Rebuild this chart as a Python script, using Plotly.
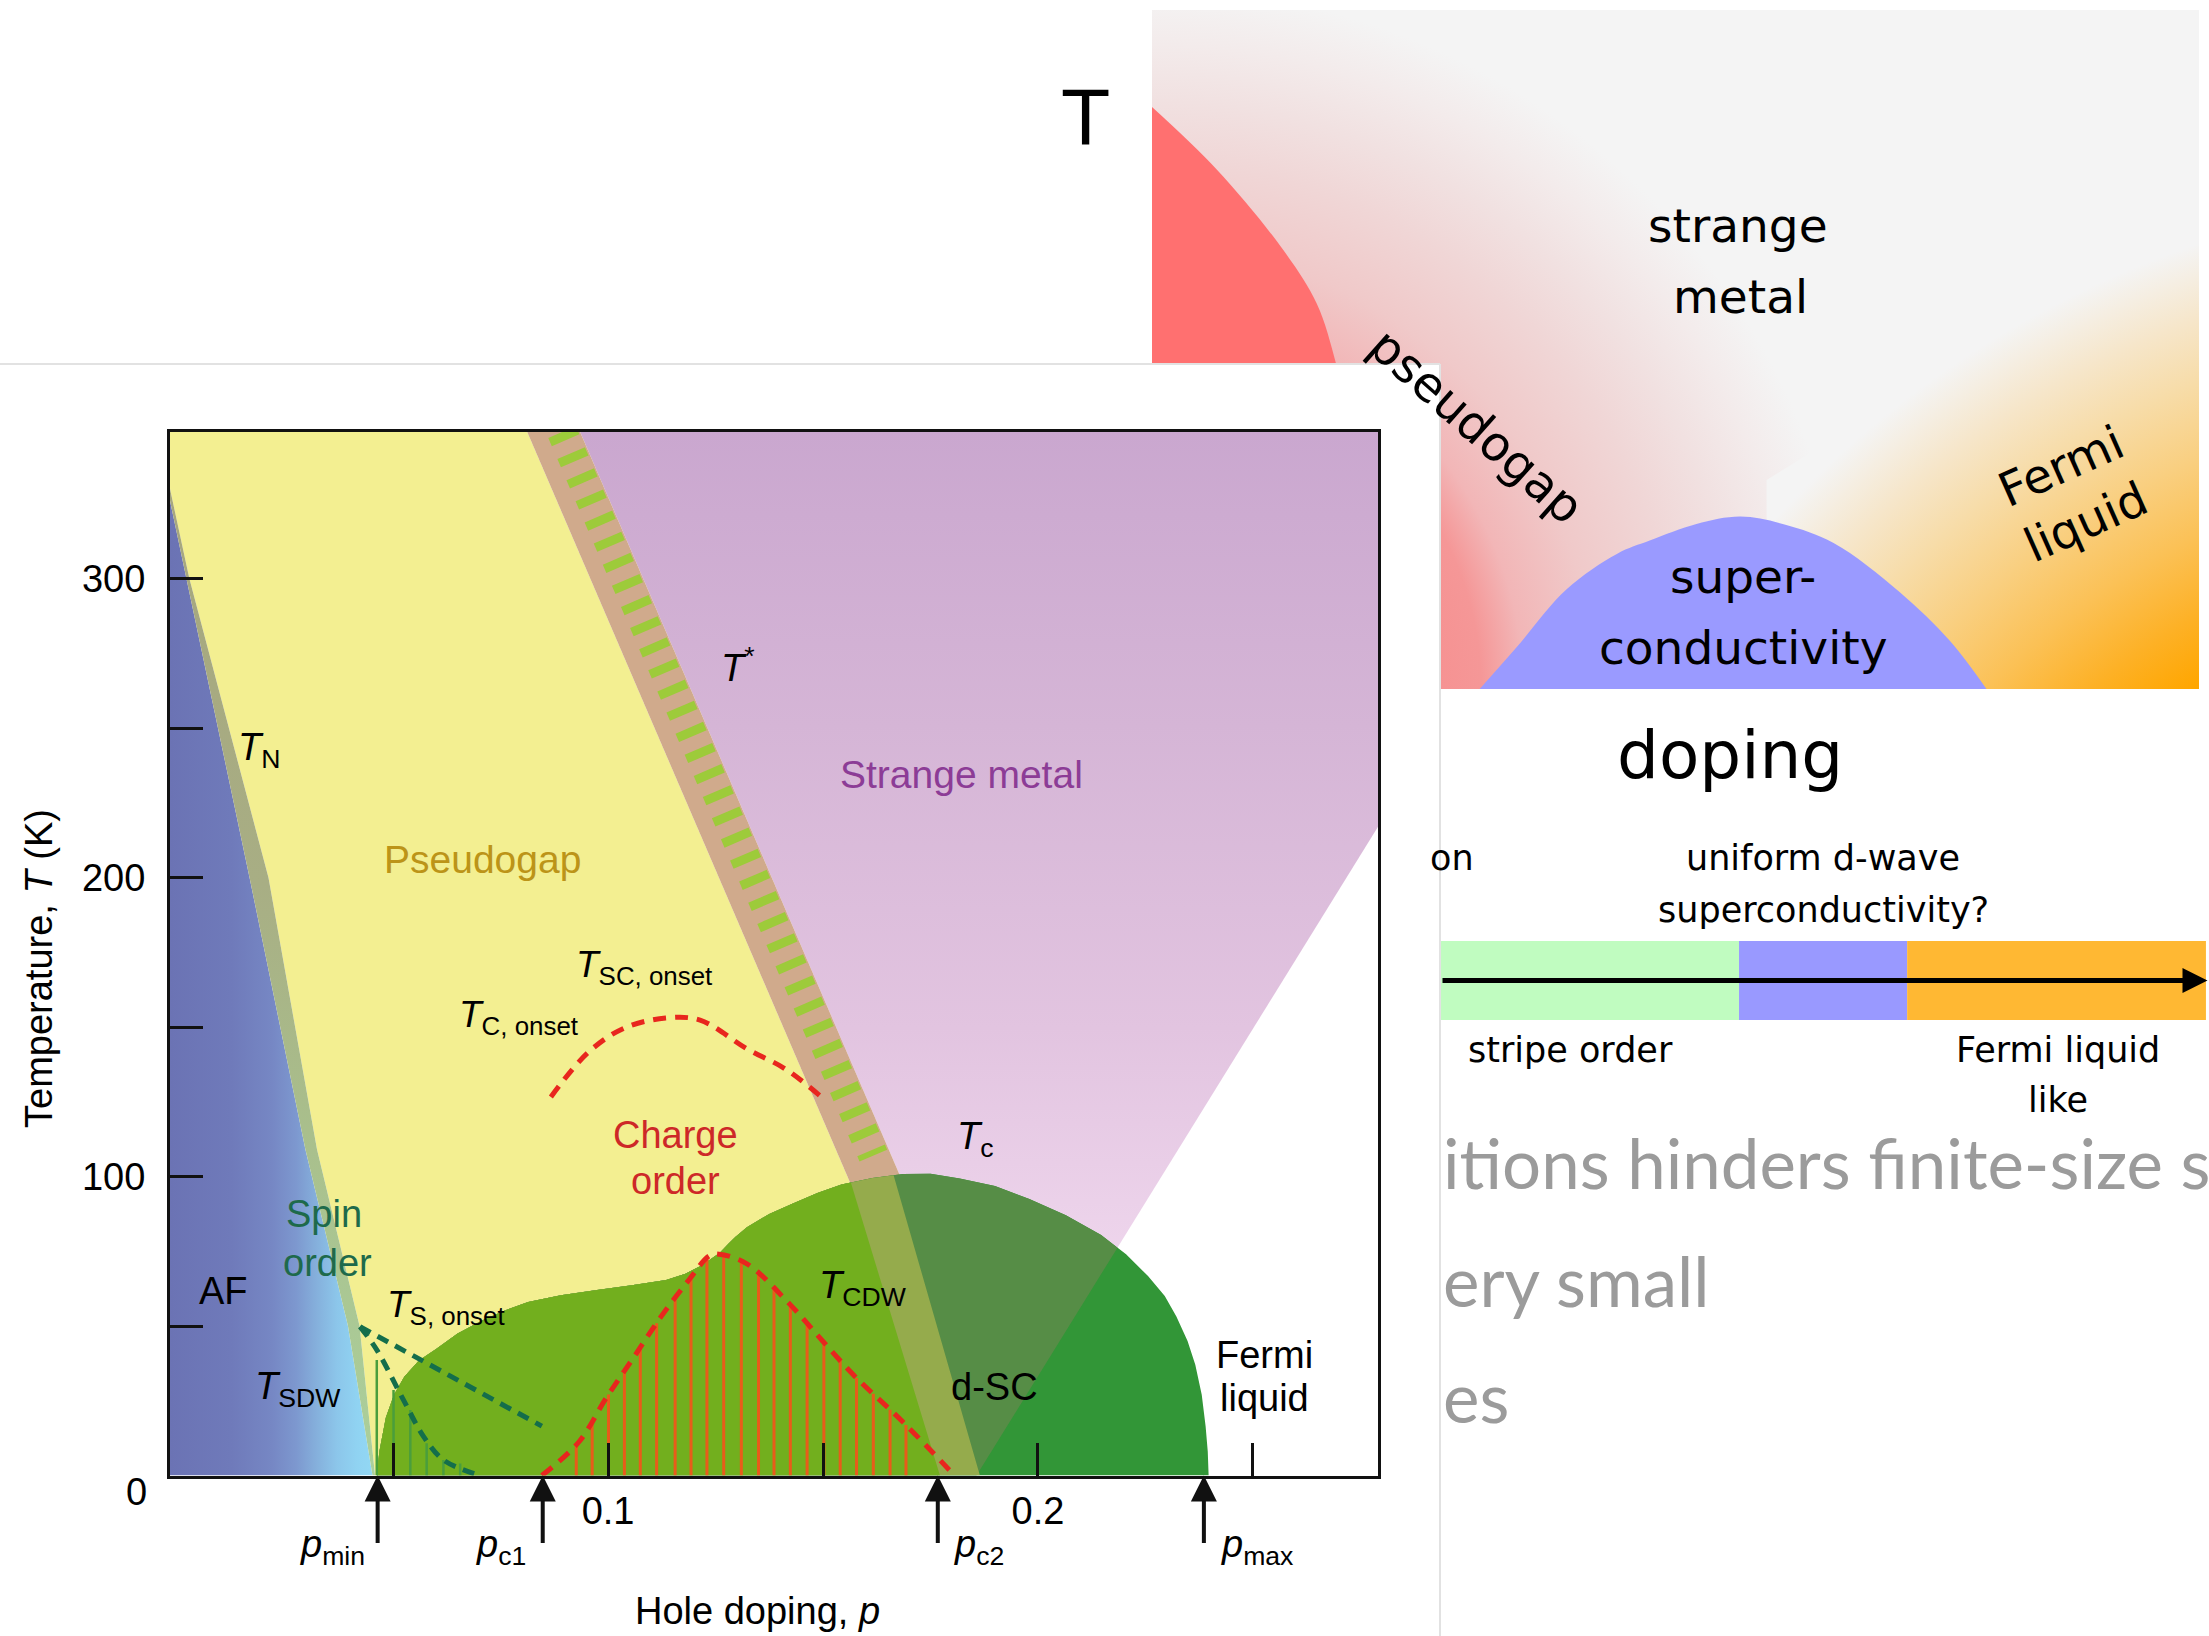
import numpy as np
import plotly.graph_objects as go

W, H = 2209, 1636


def fx(px):
    return px / W


def fy(py):
    return 1 - py / H


SANS = "Liberation Sans, Arial, Helvetica, sans-serif"
WIDE = "DejaVu Sans, Verdana, sans-serif"
HUMAN = "Lato, Open Sans, sans-serif"

# ===================== schematic T-doping sketch (panel units 0..1) =====================
pg_edge_x = [0.0, 0.0618, 0.1254, 0.1573, 0.1764, 0.195, 0.205, 0.0]
pg_edge_y = [0.857, 0.765, 0.6465, 0.5676, 0.4757, 0.350, 0.0, 0.0]
sc_x = [0.313, 0.348, 0.396, 0.444, 0.476, 0.520, 0.562, 0.605, 0.651, 0.714, 0.762, 0.797]
sc_y = [0.0, 0.061, 0.147, 0.199, 0.219, 0.243, 0.254, 0.242, 0.215, 0.143, 0.071, 0.0]
fl_x = [0.587, 0.587, 1.0]
fl_y = [0.0, 0.3078, 0.7054]

# ===================== cuprate phase diagram: hole doping p vs temperature T =====================
p_lo, p_hi, t_top = -0.0019, 0.2791, 349.0

tn_left_p = [-0.0019, 0.0166, 0.0296, 0.0395, 0.0452]
tn_left_T = [326, 200, 109, 50, 0]
tn_right_p = [-0.0019, 0.0026, 0.0210, 0.0323, 0.0422, 0.0458]
tn_right_T = [330, 300, 200, 109, 50, 0]

tstar_left_p, tstar_left_T = [0.0812, 0.1856], [349, 0]
tstar_right_p, tstar_right_T = [0.0935, 0.1979], [349, 0]
tstar_dash_p, tstar_dash_T = [0.0893, 0.1617], [349, 107]
stripe_left_p, stripe_left_T = [0.1563, 0.1772], [98.8, 0]
stripe_right_p, stripe_right_T = [0.1663, 0.1865], [101, 0]
fl_line_p, fl_line_T = [0.1857, 0.2791], [0, 217]

dome_p = [0.0462, 0.0468, 0.0483, 0.0502, 0.0526, 0.0560, 0.0600, 0.0650, 0.0707, 0.0760,
          0.0814, 0.0890, 0.0974, 0.1055, 0.1135, 0.1180, 0.1214, 0.1240, 0.1260, 0.1280,
          0.1296, 0.1323, 0.1375, 0.1430, 0.1487, 0.1543, 0.1615, 0.1686, 0.1750, 0.1818,
          0.1900, 0.1980, 0.2065, 0.2147, 0.2205, 0.2256, 0.2295, 0.2322, 0.2348, 0.2366,
          0.2381, 0.2390, 0.2395, 0.2397]
dome_T = [0, 8.0, 19.3, 27.0, 33.0, 38.5, 42.3, 47.5, 51.8, 55.2,
          58.0, 60.3, 62.0, 63.6, 65.4, 67.5, 70.0, 72.5, 74.5, 77.5,
          79.8, 83.0, 87.5, 91.0, 94.5, 97.3, 99.5, 100.8, 100.9, 99.3,
          96.8, 92.5, 87.0, 80.4, 74.0, 66.7, 60.0, 53.2, 45.0, 37.0,
          27.0, 16.5, 8.0, 0]

cdw_p = [0.0846, 0.0932, 0.0996, 0.1060, 0.1124, 0.1188, 0.1236, 0.1258, 0.1323, 0.1422,
         0.1499, 0.1576, 0.1686, 0.1806]
cdw_T = [0, 11.2, 26.0, 39.6, 53.3, 65.4, 73.5, 74.0, 70.8, 57.4, 45.0, 32.9, 17.9, 0]
onset_p = [0.0867, 0.0953, 0.1037, 0.1134, 0.1214, 0.1323, 0.1412, 0.1493]
onset_T = [126.6, 141.4, 149.6, 153.0, 152.3, 142.7, 136.0, 127.0]

cdw_hatch_p = [0.0926, 0.0963, 0.1001, 0.1038, 0.1075, 0.1113, 0.1156, 0.1193, 0.1230, 0.1269,
               0.1310, 0.1350, 0.1386, 0.1424, 0.1463, 0.1502, 0.1540, 0.1578, 0.1617, 0.1656,
               0.1693]
cdw_hatch_T = [10.4, 18.4, 27.1, 34.9, 42.8, 50.9, 59.4, 66.2, 72.5, 73.5,
               71.4, 67.1, 62.3, 57.1, 50.8, 44.5, 38.6, 32.6, 27.3, 22.0,
               16.9]

ts_onset_p, ts_onset_T = [0.0423, 0.0846], [49.8, 16.5]
sdw_p = [0.0423, 0.0462, 0.0524, 0.0571, 0.0617, 0.0695]
sdw_T = [49.8, 42.0, 25.3, 13.0, 5.2, 0.3]
spin_hatch_p = [0.0462, 0.0501, 0.0540, 0.0578, 0.0617, 0.0656]
spin_hatch_T = [38.6, 28.6, 21.9, 10.8, 5.2, 4.0]

p_marks = {"min": 0.0464, "c1": 0.0848, "c2": 0.1767, "max": 0.2386}

# ===================== doping bar =====================
bar_start = [0.0, 0.39, 0.61]
bar_end = [0.39, 0.61, 1.001]
bar_colors = ["#c0fcc0", "#9999ff", "#ffb833"]


def on_line(lp, lt, t):
    return lp[0] + (lp[1] - lp[0]) * (t - lt[0]) / (lt[1] - lt[0])


def clip_left(ps, ts, lp, lt):
    """Part of polygon (ps, ts) lying at lower doping than the line through (lp, lt)."""
    f = [p - on_line(lp, lt, t) for p, t in zip(ps, ts)]
    out_p, out_t = [], []
    n = len(ps)
    for i in range(n):
        j = (i + 1) % n
        if f[i] <= 0:
            out_p.append(ps[i])
            out_t.append(ts[i])
        if f[i] * f[j] < 0:
            s = f[i] / (f[i] - f[j])
            out_p.append(ps[i] + s * (ps[j] - ps[i]))
            out_t.append(ts[i] + s * (ts[j] - ts[i]))
    return out_p, out_t


def region(xs, ys, axes, color=None, gradient=None, shape="linear"):
    kw = dict(x=xs, y=ys, mode="lines", fill="toself",
              line=dict(width=0, shape=shape, simplify=False),
              hoverinfo="skip", showlegend=False, xaxis=axes[0], yaxis=axes[1])
    if gradient is not None:
        kw["fillgradient"] = gradient
    else:
        kw["fillcolor"] = color
    return go.Scatter(**kw)


def segments(ps, tops):
    xs, ys = [], []
    for p, t in zip(ps, tops):
        xs += [p, p, None]
        ys += [0, t, None]
    return xs, ys


fig = go.Figure()
A1 = ("x", "y")
A2 = ("x2", "y2")
A3 = ("x3", "y3")

# ---- sketch panel ----
fig.add_trace(region([0, 1, 1, 0], [0, 0, 1, 1], A1, color="#f4f4f4"))
# pseudogap glow, radial about the lower-left corner
rx, ry = 0.6686, 1.0309
fig.add_trace(region([-rx, rx, rx, -rx], [-ry, -ry, ry, ry], A1,
                     gradient=dict(type="radial", colorscale=[
                         [0, "#fa7a7a"], [0.33, "#f78c8c"], [0.47, "#f59797"], [0.53, "#f2b6b7"],
                         [0.63, "#f0c9c9"], [0.75, "#f0d6d6"], [0.84, "#f1e1e1"],
                         [0.92, "#f3ebeb"], [1, "#f4f4f4"]])))
# Fermi-liquid glow, radial about a point beyond the lower-right corner
ox0, ox1, oy0, oy1 = 0.3429, 2.2645, -2.2312, 0.7320
fig.add_trace(region([ox0, fl_x[0], fl_x[1], 1.0276, ox1, ox1, ox0],
                     [-0.05, -0.05, fl_y[1], oy1, oy1, oy0, oy0], A1,
                     gradient=dict(type="radial", colorscale=[
                         [0, "#ffa000"], [0.6, "#ffa600"], [0.66, "#fdb126"], [0.73, "#fbc156"],
                         [0.8, "#f9cf80"], [0.87, "#f7dca8"], [0.93, "#f6e6ca"],
                         [0.97, "#f5eee2"], [1, "#f4f4f4"]])))
fig.add_trace(region(pg_edge_x, pg_edge_y, A1, color="#ff7070", shape="spline"))
fig.add_trace(region(sc_x, sc_y, A1, color="#9a9aff", shape="spline"))

# ---- white sheet carrying the phase diagram ----
fig.add_trace(region([0, 1, 1, 0], [0, 0, 1, 1], A2, color="#ffffff"))

# ---- phase diagram regions ----
fig.add_trace(region(tn_left_p + [p_lo], tn_left_T + [0], A3,
                     gradient=dict(type="horizontal", start=p_lo, stop=0.0455, colorscale=[
                         [0, "#6b73b4"], [0.3, "#6f7aba"], [0.5, "#7687c4"], [0.62, "#7d98cf"],
                         [0.72, "#85b0dc"], [0.82, "#8cc6ea"], [0.92, "#90d3f2"], [1, "#92d8f4"]])))
yel_p = [p_lo, on_line(tstar_left_p, tstar_left_T, t_top), on_line(tstar_left_p, tstar_left_T, 40),
         dome_p[0]] + tn_right_p[::-1]
yel_T = [t_top, t_top, 40, 0] + tn_right_T[::-1]
fig.add_trace(region(yel_p, yel_T, A3, color="#f3ef91"))
fig.add_trace(region(tn_left_p + tn_right_p[::-1], tn_left_T + tn_right_T[::-1], A3,
                     gradient=dict(type="vertical", start=0, stop=330, colorscale=[
                         [0, "#abd09c"], [0.35, "#a9bf8c"], [0.6, "#a8ae84"], [1, "#a6a67e"]])))
sm_p = [on_line(tstar_right_p, tstar_right_T, t_top), on_line(tstar_right_p, tstar_right_T, 60),
        on_line(fl_line_p, fl_line_T, 60), fl_line_p[1], p_hi]
sm_T = [t_top, 60, 60, fl_line_T[1], t_top]
fig.add_trace(region(sm_p, sm_T, A3,
                     gradient=dict(type="vertical", start=60, stop=t_top, colorscale=[
                         [0, "#f0d8ee"], [0.31, "#e2c4e0"], [0.66, "#d5b5d6"], [1, "#caa7cf"]])))
band_p = [on_line(tstar_left_p, tstar_left_T, t_top), on_line(tstar_right_p, tstar_right_T, t_top),
          on_line(tstar_right_p, tstar_right_T, 60), on_line(tstar_left_p, tstar_left_T, 60)]
fig.add_trace(region(band_p, [t_top, t_top, 60, 60], A3, color="#d0aa8c"))
fig.add_trace(go.Scatter(x=tstar_dash_p, y=tstar_dash_T, mode="lines", xaxis="x3", yaxis="y3",
                         line=dict(color="#9dcb3a", width=30, dash="9px,14px"),
                         hoverinfo="skip", showlegend=False))

# superconducting dome, shaded by the crossover region it lies in
fig.add_trace(region(dome_p, dome_T, A3, color="#329637"))
for lp, lt, col in [(fl_line_p, fl_line_T, "#568d46"),
                    (stripe_right_p, stripe_right_T, "#95ab4c"),
                    (stripe_left_p, stripe_left_T, "#72af1e")]:
    cp, ct = clip_left(dome_p, dome_T, lp, lt)
    fig.add_trace(region(cp, ct, A3, color=col))

hx, hy = segments(spin_hatch_p, spin_hatch_T)
fig.add_trace(go.Scatter(x=hx, y=hy, mode="lines", xaxis="x3", yaxis="y3",
                         line=dict(color="#4a9e3c", width=2.5), hoverinfo="skip", showlegend=False))
hx, hy = segments(cdw_hatch_p, cdw_hatch_T)
fig.add_trace(go.Scatter(x=hx, y=hy, mode="lines", xaxis="x3", yaxis="y3",
                         line=dict(color="#e85c1a", width=3), hoverinfo="skip", showlegend=False))
for xs, ys, col, dash in [(cdw_p, cdw_T, "#e8261e", "13px,9px"),
                          (onset_p, onset_T, "#e8261e", "13px,9px"),
                          (ts_onset_p, ts_onset_T, "#146e4b", "12px,8px"),
                          (sdw_p, sdw_T, "#146e4b", "12px,8px")]:
    fig.add_trace(go.Scatter(x=xs, y=ys, mode="lines", xaxis="x3", yaxis="y3",
                             line=dict(color=col, width=5, dash=dash, shape="spline"),
                             hoverinfo="skip", showlegend=False))

# ---- doping bar ----
fig.add_trace(go.Bar(y=[0, 0, 0], x=[e - s for s, e in zip(bar_start, bar_end)], base=bar_start,
                     orientation="h", width=1, marker=dict(color=bar_colors, line=dict(width=0)),
                     xaxis="x4", yaxis="y4", hoverinfo="skip", showlegend=False))


def hidden(domain, rng, anchor):
    return dict(domain=domain, range=rng, visible=False, fixedrange=True, anchor=anchor,
                showgrid=False, zeroline=False)


frame = dict(showline=True, mirror=True, linecolor="#111111", linewidth=3, ticks="inside",
             ticklen=33, tickwidth=3, tickcolor="#111111", showgrid=False, zeroline=False,
             fixedrange=True, tickfont=dict(family=SANS, size=38, color="black"))

ann = []


def txt(text, x, y, size, family=SANS, color="black", xanchor="center", xref="paper",
        yref="paper", angle=0):
    ann.append(dict(text=text, x=x, y=y, xref=xref, yref=yref, xanchor=xanchor,
                    yanchor="middle", showarrow=False, textangle=angle,
                    font=dict(family=family, size=size, color=color)))


# sketch panel labels
txt("T", fx(1085), fy(118), 74, WIDE)
txt("strange", fx(1738), fy(225), 47, WIDE)
txt("metal", fx(1740), fy(296), 47, WIDE)
txt("pseudogap", fx(1477), fy(426), 48, WIDE, angle=41.5)
txt("Fermi<br>liquid", fx(2073), fy(494), 47, WIDE, angle=-24)
txt("super-", fx(1743), fy(576), 47, WIDE)
txt("conductivity", fx(1743), fy(647), 47, WIDE)
txt("doping", fx(1730), fy(755), 66, WIDE)

# doping bar labels
txt("on", fx(1476), fy(858), 35, WIDE, xanchor="right")
txt("uniform d-wave", fx(1823), fy(858), 35, WIDE)
txt("superconductivity?", fx(1823), fy(910), 35, WIDE)
txt("stripe order", fx(1570), fy(1050), 35, WIDE)
txt("Fermi liquid", fx(2058), fy(1050), 35, WIDE)
txt("like", fx(2058), fy(1100), 35, WIDE)

# slide text
txt("itions hinders finite-size scaling", fx(1441), fy(1162), 69, HUMAN, "#9b9b9b", "left")
txt("ery small", fx(1441), fy(1280), 69, HUMAN, "#9b9b9b", "left")
txt("es", fx(1441), fy(1396), 69, HUMAN, "#9b9b9b", "left")

# phase diagram labels
D = dict(xref="x3", yref="y3")
txt("<i>T</i><sub>N</sub>", 0.0135, 242.8, 38, xanchor="left", **D)
txt("<i>T</i><sup>*</sup>", 0.1258, 271, 38, xanchor="left", **D)
txt("Strange metal", 0.1821, 234.3, 39, color="#8c3c96", **D)
txt("Pseudogap", 0.0707, 205.9, 39, color="#bc9418", **D)
txt("<i>T</i><sub>SC, onset</sub>", 0.0921, 170.1, 37, xanchor="left", **D)
txt("<i>T</i><sub>C, onset</sub>", 0.0649, 153.5, 37, xanchor="left", **D)
txt("Charge", 0.1158, 113.9, 38, color="#cd2828", **D)
txt("order", 0.1158, 98.5, 38, color="#cd2828", **D)
txt("<i>T</i><sub>c</sub>", 0.1807, 112.5, 38, xanchor="left", **D)
txt("Spin", 0.0340, 87.5, 38, color="#1e6a4b", **D)
txt("order", 0.0348, 71.1, 38, color="#1e6a4b", **D)
txt("AF", 0.0105, 61.7, 38, **D)
txt("<i>T</i><sub>S, onset</sub>", 0.0481, 56.5, 37, xanchor="left", **D)
txt("<i>T</i><sub>SDW</sub>", 0.0174, 28.9, 38, xanchor="left", **D)
txt("<i>T</i><sub>CDW</sub>", 0.1485, 62.7, 38, xanchor="left", **D)
txt("d-SC", 0.1900, 29.7, 38, **D)
txt("Fermi", 0.2528, 40.3, 38, **D)
txt("liquid", 0.2528, 25.9, 38, **D)

txt("0", fx(149), fy(1492), 38, xanchor="right")
txt("Temperature, <i>T</i> (K)", fx(39), fy(969), 38, angle=-90)
txt("Hole doping, <i>p</i>", fx(757), fy(1611), 38)
txt("<i>p</i><sub>min</sub>", fx(367), fy(1547), 38, xanchor="right")
txt("<i>p</i><sub>c1</sub>", fx(528), fy(1547), 38, xanchor="right")
txt("<i>p</i><sub>c2</sub>", fx(952), fy(1547), 38, xanchor="left")
txt("<i>p</i><sub>max</sub>", fx(1219), fy(1547), 38, xanchor="left")

for p in p_marks.values():
    ann.append(dict(x=p, y=0, xref="x3", yref="y3", ax=0, ay=69, text="", showarrow=True,
                    arrowhead=2, arrowsize=1.3, arrowwidth=4, arrowcolor="#111111"))

ann.append(dict(x=1.003, y=0, xref="x4", yref="y4", ax=0, ay=0, axref="x4", ayref="y4",
                text="", showarrow=True, arrowhead=2, arrowsize=1, arrowwidth=5,
                arrowcolor="#000000"))

fig.update_layout(
    width=W, height=H, margin=dict(l=0, r=0, t=0, b=0),
    paper_bgcolor="white", plot_bgcolor="rgba(0,0,0,0)", showlegend=False, barmode="overlay",
    xaxis=hidden([fx(1152), fx(2199)], [0, 1], "y"),
    yaxis=hidden([fy(689), fy(10)], [0, 1], "x"),
    xaxis2=hidden([0, fx(1440)], [0, 1], "y2"),
    yaxis2=hidden([0, fy(364)], [0, 1], "x2"),
    xaxis3=dict(domain=[fx(170), fx(1378)], range=[p_lo, p_hi], anchor="y3",
                tickvals=[0.05, 0.1, 0.15, 0.2, 0.25], ticktext=["", "0.1", "", "0.2", ""],
                ticklabelstandoff=0, **frame),
    yaxis3=dict(domain=[fy(1475.5), fy(432)], range=[0, t_top], anchor="x3",
                tickvals=[50, 100, 150, 200, 250, 300], ticktext=["", "100", "", "200", "", "300"],
                ticklabelstandoff=14, **frame),
    xaxis4=hidden([fx(1441), 1], [0, 1.005], "y4"),
    yaxis4=hidden([fy(1020), fy(941)], [-0.5, 0.5], "x4"),
    annotations=ann,
    shapes=[
        dict(type="line", xref="paper", yref="paper", x0=0, x1=fx(1440), y0=fy(364), y1=fy(364),
             line=dict(color="#e2e2e2", width=2), layer="above"),
        dict(type="line", xref="paper", yref="paper", x0=fx(1440), x1=fx(1440), y0=fy(364), y1=0,
             line=dict(color="#e2e2e2", width=2), layer="above"),
    ],
)

fig.write_html("out.html")
